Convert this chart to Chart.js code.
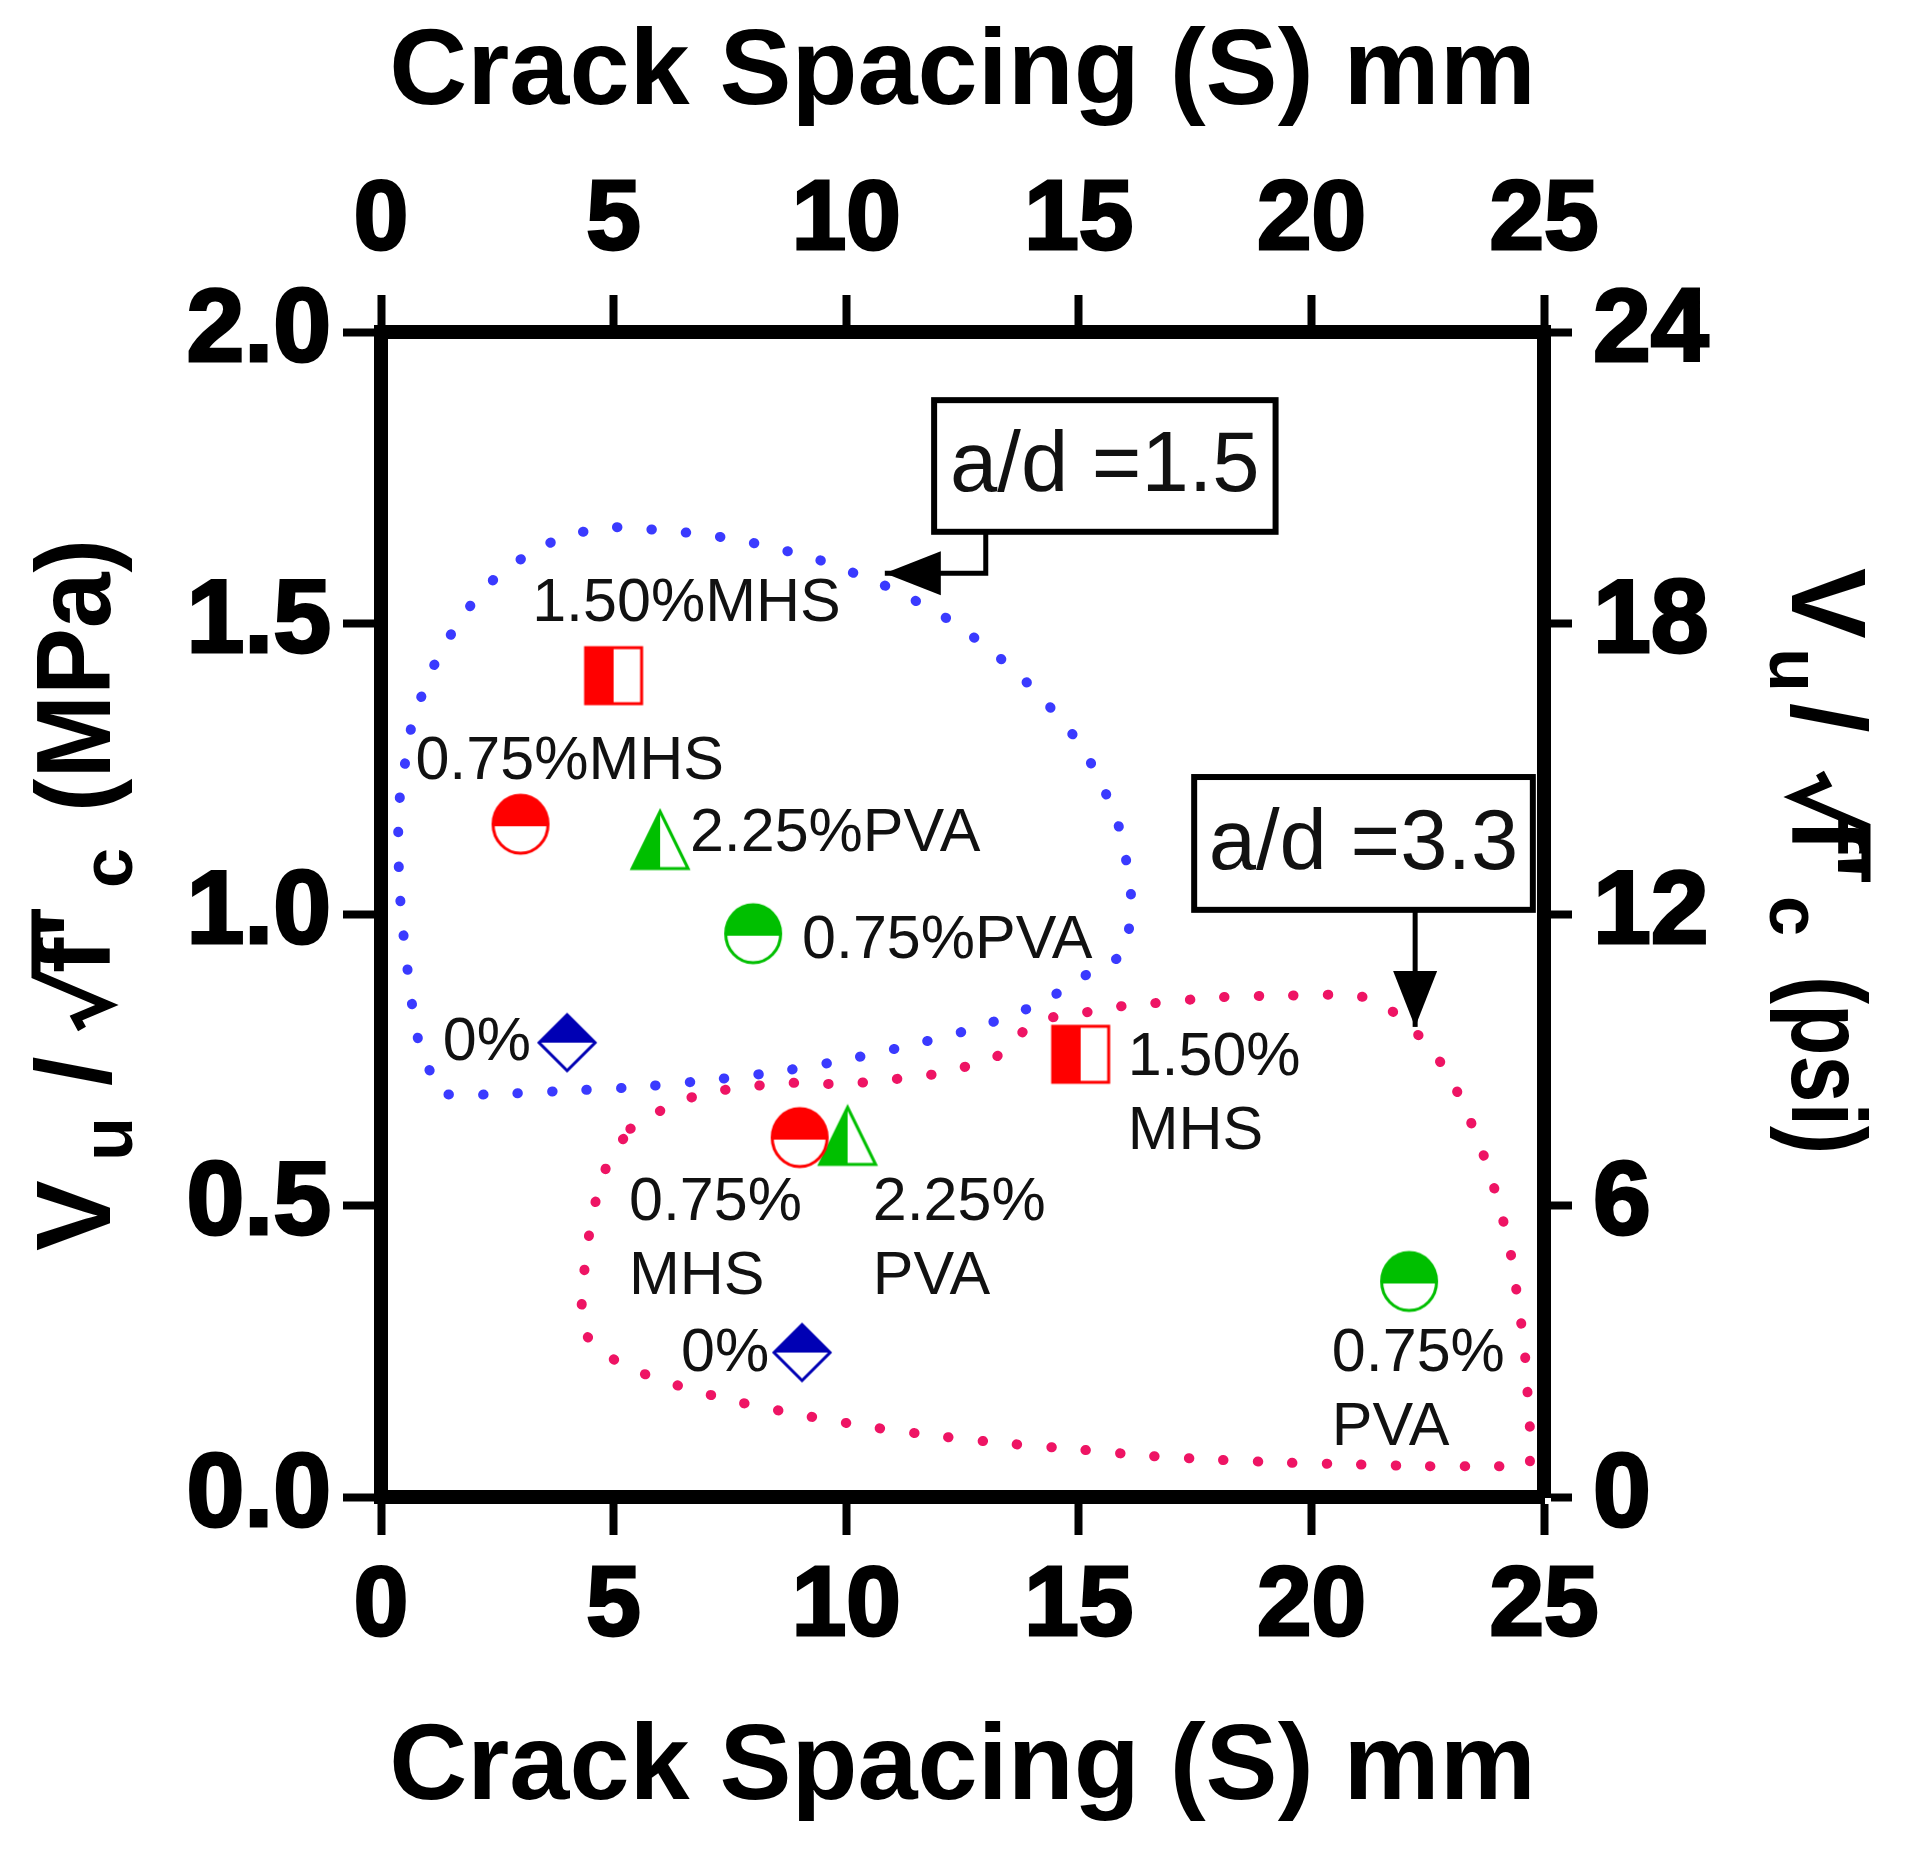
<!DOCTYPE html>
<html>
<head>
<meta charset="utf-8">
<script src="https://cdn.jsdelivr.net/npm/chart.js@4.4.0/dist/chart.umd.min.js"></script>
<style>
  html, body { margin: 0; padding: 0; background: #fff; }
  #wrap { width: 1914px; height: 1853px; }
</style>
</head>
<body>
<div id="wrap"><canvas id="chart" width="1914" height="1853"></canvas></div>
<script>
// Mixes, one marker each per shear span ratio
const mixes = ['0%', '0.75% MHS', '1.50% MHS', '0.75% PVA', '2.25% PVA'];
const spacingAd15 = [4.0, 3.0, 5.0, 8.0, 6.0];
const shearAd15 = [0.78, 1.155, 1.41, 0.967, 1.127];
const spacingAd33 = [9.05, 9.0, 15.04, 22.1, 10.03];
const shearAd33 = [0.248, 0.617, 0.76, 0.37, 0.619];

// Tick values
const xTicks = [0, 5, 10, 15, 20, 25];
const yTicksMPa = [0, 0.5, 1.0, 1.5, 2.0];
const yTicksPsi = [0, 6, 12, 18, 24];

// Dotted enclosures (crack spacing mm, shear MPa)
const loop15X = [1.45, 2.33, 3.85, 5.35, 6.86, 8.34, 9.82, 11.29, 12.76, 14.16, 15.43, 15.96, 16.12, 16.02, 15.86, 15.59, 15.26, 14.85, 14.36, 13.86, 13.28, 12.69, 12.07, 11.43, 10.71, 10.04, 9.33, 8.62, 7.87, 7.14, 6.40, 5.65, 4.91, 4.50, 3.80, 3.13, 2.53, 1.99, 1.56, 1.19, 0.90, 0.66, 0.53, 0.41, 0.37, 0.41, 0.56, 0.78, 1.02, 1.45];
const loop15Y = [0.691, 0.691, 0.697, 0.703, 0.714, 0.728, 0.748, 0.774, 0.805, 0.848, 0.910, 0.935, 1.032, 1.092, 1.151, 1.206, 1.260, 1.311, 1.358, 1.400, 1.442, 1.479, 1.513, 1.541, 1.569, 1.590, 1.611, 1.626, 1.640, 1.650, 1.657, 1.662, 1.665, 1.660, 1.644, 1.616, 1.583, 1.537, 1.488, 1.436, 1.381, 1.324, 1.266, 1.205, 1.151, 1.031, 0.912, 0.792, 0.736, 0.691];
const loop33X = [5.36, 5.84, 6.52, 7.25, 7.99, 8.73, 9.47, 10.25, 11.00, 11.76, 12.48, 13.21, 13.69, 14.27, 15.02, 15.77, 16.53, 18.04, 19.54, 20.92, 21.50, 22.08, 22.60, 23.01, 23.34, 23.62, 23.86, 24.07, 24.25, 24.37, 24.48, 24.58, 24.63, 24.69, 24.69, 24.66, 23.96, 22.45, 20.96, 19.45, 17.97, 16.46, 14.95, 13.44, 11.94, 10.46, 8.97, 7.48, 6.04, 5.36, 4.70, 4.33, 4.33, 4.40, 4.51, 4.67, 4.92, 5.36];
const loop33Y = [0.632, 0.656, 0.682, 0.697, 0.705, 0.711, 0.709, 0.711, 0.717, 0.724, 0.737, 0.755, 0.792, 0.820, 0.830, 0.841, 0.847, 0.858, 0.861, 0.861, 0.847, 0.810, 0.766, 0.715, 0.660, 0.605, 0.549, 0.490, 0.433, 0.374, 0.315, 0.255, 0.194, 0.136, 0.075, 0.053, 0.053, 0.053, 0.056, 0.059, 0.064, 0.071, 0.082, 0.092, 0.105, 0.121, 0.142, 0.167, 0.200, 0.222, 0.252, 0.292, 0.347, 0.409, 0.467, 0.525, 0.580, 0.632];

// Point labels, anchored at left/baseline in data units
const labels15 = ['0%', '0.75%MHS', '1.50%MHS', '0.75%PVA', '2.25%PVA'];
const labels15X = [1.33, 0.74, 3.25, 9.05, 6.64];
const labels15Y = [0.750, 1.232, 1.504, 0.925, 1.109];
const labels33 = [['0%'], ['0.75%', 'MHS'], ['1.50%', 'MHS'], ['0.75%', 'PVA'], ['2.25%', 'PVA']];
const labels33X = [6.45, 5.33, 16.05, 20.44, 10.57];
const labels33Y = [0.216, 0.476, 0.724, 0.216, 0.476];

// a/d callout boxes and their arrows
const calloutText = ['a/d =1.5', 'a/d =3.3'];
const calloutLeft = [11.89, 17.48];
const calloutRight = [19.23, 24.76];
const calloutTop = [1.883, 1.236];
const calloutBottom = [1.657, 1.008];
const arrow15X = [13.0, 13.0, 10.83];
const arrow15Y = [1.657, 1.586, 1.586];
const arrow33X = [22.23, 22.23];
const arrow33Y = [1.008, 0.807];

const RED = '#ff0000';
const GREEN = '#00bf00';
const NAVY = '#0000b4';
const DOT_BLUE = '#3a3aff';
const DOT_PINK = '#ee1464';

// Half-filled markers, drawn once and handed to Chart.js as point styles
function makeMarker(shape, color) {
    const s = 66, m = s / 2, h = 28;
    const c = document.createElement('canvas');
    c.width = s; c.height = s;
    const g = c.getContext('2d');
    g.lineWidth = 3;
    g.strokeStyle = color;

    const outline = () => {
        g.beginPath();
        if (shape === 'square') {
            g.rect(m - h, m - h, 2 * h, 2 * h);
        } else if (shape === 'circle') {
            g.ellipse(m, m, h - 0.5, h + 1, 0, 0, Math.PI * 2);
        } else if (shape === 'triangle') {
            g.moveTo(m, m - h - 1); g.lineTo(m + h, m + h); g.lineTo(m - h, m + h); g.closePath();
        } else {
            g.moveTo(m, m - h); g.lineTo(m + h, m); g.lineTo(m, m + h); g.lineTo(m - h, m); g.closePath();
        }
    };

    outline();
    g.fillStyle = '#fff';
    g.fill();

    // filled half: left for square/triangle, top for circle/diamond
    g.save();
    outline();
    g.clip();
    g.fillStyle = color;
    if (shape === 'square' || shape === 'triangle') g.fillRect(0, 0, m, s);
    else if (shape === 'circle') g.fillRect(0, 0, s, m + 2);
    else g.fillRect(0, 0, s, m);
    g.restore();

    outline();
    g.stroke();
    return c;
}

const markers = [
    makeMarker('diamond', NAVY),
    makeMarker('circle', RED),
    makeMarker('square', RED),
    makeMarker('circle', GREEN),
    makeMarker('triangle', GREEN)
];

function loopPoints(xs, ys) {
    return xs.map((v, i) => ({ x: v, y: ys[i] }));
}

const markerSets = mixes.map((name, i) => ({
    label: name,
    data: [
        { x: spacingAd15[i], y: shearAd15[i] },
        { x: spacingAd33[i], y: shearAd33[i] }
    ],
    pointStyle: markers[i],
    pointRadius: 30,
    order: 1
}));

const loopSets = [
    { label: 'a/d = 1.5', data: loopPoints(loop15X, loop15Y), color: DOT_BLUE },
    { label: 'a/d = 3.3', data: loopPoints(loop33X, loop33Y), color: DOT_PINK }
].map(d => ({
    label: d.label,
    data: d.data,
    showLine: true,
    borderColor: d.color,
    borderWidth: 10,
    borderDash: [0.5, 34],
    borderCapStyle: 'round',
    tension: 0.3,
    pointRadius: 0,
    fill: false,
    order: 2
}));

function drawArrow(ctx, xs, ys) {
    ctx.lineWidth = 5;
    ctx.beginPath();
    ctx.moveTo(xs[0], ys[0]);
    for (let i = 1; i < xs.length; i++) ctx.lineTo(xs[i], ys[i]);
    ctx.stroke();
    const n = xs.length - 1;
    const a = Math.atan2(ys[n] - ys[n - 1], xs[n] - xs[n - 1]);
    const len = 56, half = 22;
    ctx.beginPath();
    ctx.moveTo(xs[n], ys[n]);
    ctx.lineTo(xs[n] - len * Math.cos(a) - half * Math.sin(a), ys[n] - len * Math.sin(a) + half * Math.cos(a));
    ctx.lineTo(xs[n] - len * Math.cos(a) + half * Math.sin(a), ys[n] - len * Math.sin(a) - half * Math.cos(a));
    ctx.closePath();
    ctx.fill();
}

const annotations = {
    id: 'annotations',
    afterDatasetsDraw(chart) {
        const { ctx, scales: { x, y } } = chart;
        ctx.save();
        ctx.fillStyle = '#111';
        ctx.strokeStyle = '#000';
        ctx.textAlign = 'left';
        ctx.textBaseline = 'alphabetic';
        ctx.font = '61px "Liberation Sans"';

        labels15.forEach((t, i) => {
            ctx.fillText(t, x.getPixelForValue(labels15X[i]), y.getPixelForValue(labels15Y[i]));
        });
        labels33.forEach((lines, i) => {
            const px = x.getPixelForValue(labels33X[i]);
            const py = y.getPixelForValue(labels33Y[i]);
            lines.forEach((t, j) => ctx.fillText(t, px, py + j * 74));
        });

        // callout boxes
        calloutText.forEach((t, i) => {
            const l = x.getPixelForValue(calloutLeft[i]);
            const r = x.getPixelForValue(calloutRight[i]);
            const tp = y.getPixelForValue(calloutTop[i]);
            const b = y.getPixelForValue(calloutBottom[i]);
            ctx.fillStyle = '#fff';
            ctx.fillRect(l, tp, r - l, b - tp);
            ctx.lineWidth = 6;
            ctx.strokeRect(l, tp, r - l, b - tp);
            ctx.fillStyle = '#111';
            ctx.font = '85px "Liberation Sans"';
            ctx.textAlign = 'center';
            ctx.textBaseline = 'middle';
            ctx.fillText(t, (l + r) / 2, (tp + b) / 2 + 2);
        });

        ctx.fillStyle = '#000';
        drawArrow(ctx, arrow15X.map(v => x.getPixelForValue(v)), arrow15Y.map(v => y.getPixelForValue(v)));
        drawArrow(ctx, arrow33X.map(v => x.getPixelForValue(v)), arrow33Y.map(v => y.getPixelForValue(v)));
        ctx.restore();
    }
};

// V_u / sqrt(f'_c) (unit), rotated along the side of the plot
function drawShearTitle(ctx, t) {
    const big = 'bold 106px "Liberation Sans"';
    const small = 'bold 72px "Liberation Sans"';
    ctx.save();
    ctx.translate(t.x, t.y);
    ctx.rotate(t.angle);
    ctx.fillStyle = '#000';
    ctx.strokeStyle = '#000';
    ctx.textAlign = 'left';
    ctx.textBaseline = 'alphabetic';
    ctx.font = big; ctx.fillText('V', t.at[0], 0);
    ctx.font = small; ctx.fillText('u', t.at[1], 22);
    ctx.font = big; ctx.fillText('/', t.at[2], 0);
    const r = t.at[3];
    ctx.lineWidth = 9;
    ctx.lineJoin = 'miter';
    ctx.beginPath();
    ctx.moveTo(r, -28);
    ctx.lineTo(r + 11, -34);
    ctx.lineTo(r + 24, -3);
    ctx.lineTo(r + 54, -74);
    ctx.lineTo(t.at[4] + 64, -74);
    ctx.stroke();
    ctx.font = big; ctx.fillText("f'", t.at[4], 0);
    ctx.font = small; ctx.fillText('c', t.at[5], 22);
    ctx.font = big; ctx.fillText(t.unit, t.at[6], 0, t.unitLen);
    ctx.restore();
}

const sideTitles = {
    id: 'sideTitles',
    afterDraw(chart) {
        const ctx = chart.ctx;
        drawShearTitle(ctx, { x: 110, y: 1251, angle: -Math.PI / 2, at: [0, 90, 165, 222, 278, 363, 439], unit: '(MPa)', unitLen: 273 });
        drawShearTitle(ctx, { x: 1792, y: 568, angle: Math.PI / 2, at: [0, 80, 135, 205, 250, 328, 408], unit: '(psi)', unitLen: 178 });
    }
};

function axisBase(tickLength, padding, size, fit) {
    return {
        type: 'linear',
        grid: { drawOnChartArea: false, drawTicks: true, tickLength: tickLength, tickWidth: 8, tickColor: '#000' },
        border: { display: true, width: 14, color: '#000' },
        ticks: {
            color: '#000', padding: padding,
            font: { size: size, weight: 'bold' },
            textStrokeColor: '#000', textStrokeWidth: 3
        },
        afterFit: fit
    };
}

Chart.defaults.font.family = '"Liberation Sans", Arial, sans-serif';
Chart.defaults.color = '#000';

const xBottom = axisBase(38, 14, 98, s => { s.height = 356; });
Object.assign(xBottom, {
    position: 'bottom', min: 0, max: 25,
    afterBuildTicks: s => { s.ticks = xTicks.map(v => ({ value: v })); },
    title: { display: true, text: 'Crack Spacing (S) mm', font: { size: 108, weight: 'bold' }, padding: { top: 0, bottom: 19 } }
});
const xTop = axisBase(37, 14, 98, s => { s.height = 332; });
Object.assign(xTop, {
    position: 'top', min: 0, max: 25,
    afterBuildTicks: s => { s.ticks = xTicks.map(v => ({ value: v })); },
    title: { display: true, text: 'Crack Spacing (S) mm', font: { size: 108, weight: 'bold' }, padding: { top: 9, bottom: 0 } }
});
const yLeft = axisBase(38, 12, 104, s => { s.width = 381; });
Object.assign(yLeft, {
    position: 'left', min: 0, max: 2,
    afterBuildTicks: s => { s.ticks = yTicksMPa.map(v => ({ value: v })); }
});
yLeft.ticks.callback = v => v.toFixed(1);
const yRight = axisBase(28, 21, 104, s => { s.width = 370; });
Object.assign(yRight, {
    position: 'right', min: 0, max: 24,
    afterBuildTicks: s => { s.ticks = yTicksPsi.map(v => ({ value: v })); }
});

new Chart(document.getElementById('chart'), {
    type: 'scatter',
    data: { datasets: [...loopSets, ...markerSets] },
    options: {
        responsive: false,
        animation: false,
        devicePixelRatio: 1,
        layout: { padding: 0 },
        plugins: { legend: { display: false }, tooltip: { enabled: false } },
        scales: { x: xBottom, x2: xTop, y: yLeft, y2: yRight }
    },
    plugins: [annotations, sideTitles]
});
</script>
</body>
</html>
